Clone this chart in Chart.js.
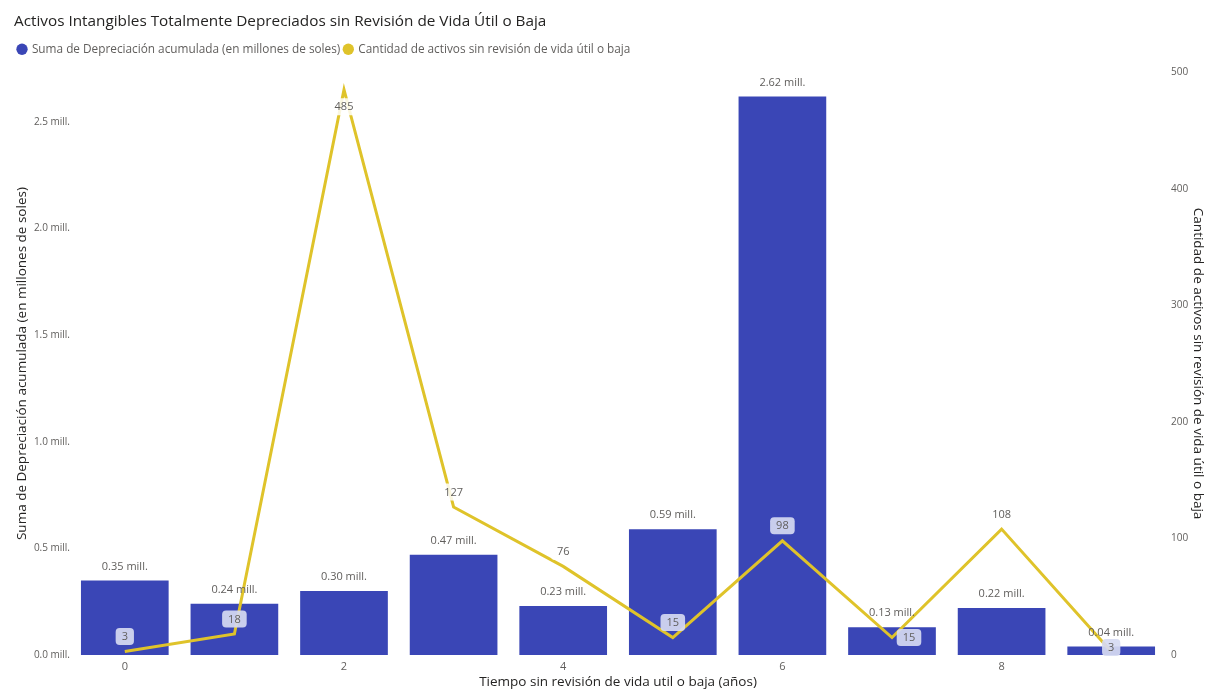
<!DOCTYPE html>
<html>
<head>
<meta charset="utf-8">
<script src="https://cdn.jsdelivr.net/npm/chart.js@4"></script>
<style>
  html, body { margin: 0; padding: 0; background: #fff; }
  #wrap { width: 1206px; height: 692px; }
</style>
</head>
<body>
<div id="wrap"><canvas id="chart"></canvas></div>
<script>
// años sin revisión
const categories = ['0', '1', '2', '3', '4', '5', '6', '7', '8', '9'];
// millones de soles
const depreciacion = [0.35, 0.24, 0.30, 0.47, 0.23, 0.59, 2.62, 0.13, 0.22, 0.04];
// cantidad de activos
const cantidad = [3, 18, 485, 127, 76, 15, 98, 15, 108, 3];
const leftTicks = [0, 0.5, 1.0, 1.5, 2.0, 2.5];
const rightTicks = [0, 100, 200, 300, 400, 500];

const BAR_COLOR = '#3A46B6';
const LINE_COLOR = '#DFC32A';
const FONT = 'Open Sans';

// where each count label goes relative to its point
const countLabelPos = ['above', 'above', 'below', 'above', 'above', 'above', 'above', 'right', 'above', 'on'];

const valueLabels = {
  id: 'valueLabels',
  afterDatasetsDraw(chart) {
    const ctx = chart.ctx;
    ctx.save();
    ctx.font = '11px "' + FONT + '"';
    ctx.textAlign = 'center';
    ctx.textBaseline = 'middle';

    const barMeta = chart.getDatasetMeta(0);
    barMeta.data.forEach((bar, i) => {
      ctx.fillStyle = '#605E5C';
      ctx.fillText(depreciacion[i].toFixed(2) + ' mill.', bar.x, bar.y - 14);
    });

    const lineMeta = chart.getDatasetMeta(1);
    lineMeta.data.forEach((pt, i) => {
      const txt = String(cantidad[i]);
      let x = pt.x, y = pt.y - 15;
      if (countLabelPos[i] === 'below') y = pt.y + 17;
      if (countLabelPos[i] === 'right') { x = pt.x + 17; y = pt.y; }
      if (countLabelPos[i] === 'on') y = pt.y - 4;
      const w = ctx.measureText(txt).width + 12;
      const h = 17;
      const bar = barMeta.data[i];
      const overBar = y > bar.y;
      ctx.fillStyle = overBar ? 'rgba(214,218,242,0.92)' : 'rgba(255,255,255,0.85)';
      ctx.beginPath();
      ctx.roundRect(x - w / 2, y - h / 2, w, h, 4);
      ctx.fill();
      ctx.fillStyle = '#605E5C';
      ctx.fillText(txt, x, y + 0.5);
    });
    ctx.restore();
  }
};

// leave some room between the legend row and the plot
const legendGap = {
  id: 'legendGap',
  beforeUpdate(chart) {
    const legend = chart.legend;
    if (!legend || legend._gapPatched) return;
    const fit = legend.fit;
    legend.fit = function () {
      fit.call(this);
      this.height += 7;
    };
    legend._gapPatched = true;
  }
};

const axisTitleFont = { family: FONT, size: 13.5 };

new Chart(document.getElementById('chart'), {
  type: 'bar',
  data: {
    labels: categories,
    datasets: [
      {
        type: 'bar',
        label: 'Suma de Depreciación acumulada (en millones de soles)',
        data: depreciacion,
        backgroundColor: BAR_COLOR,
        yAxisID: 'y',
        barPercentage: 0.8,
        categoryPercentage: 1.0,
        order: 2
      },
      {
        type: 'line',
        label: 'Cantidad de activos sin revisión de vida útil o baja',
        data: cantidad,
        borderColor: LINE_COLOR,
        backgroundColor: LINE_COLOR,
        borderWidth: 3,
        pointRadius: 0,
        tension: 0,
        yAxisID: 'y1',
        order: 1
      }
    ]
  },
  options: {
    responsive: true,
    maintainAspectRatio: false,
    animation: false,
    layout: { padding: { left: 14, right: 0, top: 0, bottom: 0 } },
    plugins: {
      title: {
        display: true,
        text: 'Activos Intangibles Totalmente Depreciados sin Revisión de Vida Útil o Baja',
        align: 'start',
        color: '#252423',
        font: { family: FONT, size: 15.3, weight: '500' },
        padding: { top: 12, bottom: 9 }
      },
      legend: {
        position: 'top',
        align: 'start',
        labels: {
          usePointStyle: true,
          boxWidth: 8,
          boxHeight: 8,
          padding: 4,
          color: '#605E5C',
          font: { family: FONT, size: 11.8 },
          // keep dataset order (bars first) and flat dots
          generateLabels: chart => chart.data.datasets.map((ds, i) => ({
            text: ds.label,
            fillStyle: ds.backgroundColor,
            strokeStyle: ds.backgroundColor,
            lineWidth: 0,
            pointStyle: 'circle',
            fontColor: '#605E5C',
            hidden: false,
            datasetIndex: i
          }))
        }
      },
      tooltip: { enabled: false }
    },
    scales: {
      x: {
        grid: { display: false, drawTicks: false },
        border: { display: false },
        afterFit: s => { s.height = 37; },
        ticks: {
          color: '#605E5C',
          font: { family: FONT, size: 11 },
          maxRotation: 0,
          autoSkip: false,
          padding: 5,
          callback: (v, i) => (i % 2 === 0 ? categories[i] : '')
        },
        title: {
          display: true,
          text: 'Tiempo sin revisión de vida util o baja (años)',
          color: '#252423',
          font: axisTitleFont,
          padding: { top: 0, bottom: 2 }
        }
      },
      y: {
        position: 'left',
        min: 0,
        max: 2.734,
        grid: { display: false, drawTicks: false },
        border: { display: false },
        afterBuildTicks: s => { s.ticks = leftTicks.map(v => ({ value: v })); },
        afterFit: s => { s.width = 56; },
        ticks: {
          color: '#605E5C',
          font: { family: FONT, size: 10 },
          padding: 0,
          callback: v => v.toFixed(1) + ' mill.'
        },
        title: {
          display: true,
          text: 'Suma de Depreciación acumulada (en millones de soles)',
          color: '#252423',
          font: axisTitleFont,
          padding: { top: 0, bottom: 0 }
        }
      },
      y1: {
        position: 'right',
        min: 0,
        max: 500,
        grid: { display: false, drawTicks: false },
        border: { display: false },
        afterBuildTicks: s => { s.ticks = rightTicks.map(v => ({ value: v })); },
        afterFit: s => { s.width = 40; },
        ticks: {
          color: '#605E5C',
          font: { family: FONT, size: 10 },
          padding: 5
        },
        title: {
          display: true,
          text: 'Cantidad de activos sin revisión de vida útil o baja',
          color: '#252423',
          font: axisTitleFont,
          padding: { top: 0, bottom: 0 }
        }
      }
    }
  },
  plugins: [legendGap, valueLabels]
});
</script>
</body>
</html>
